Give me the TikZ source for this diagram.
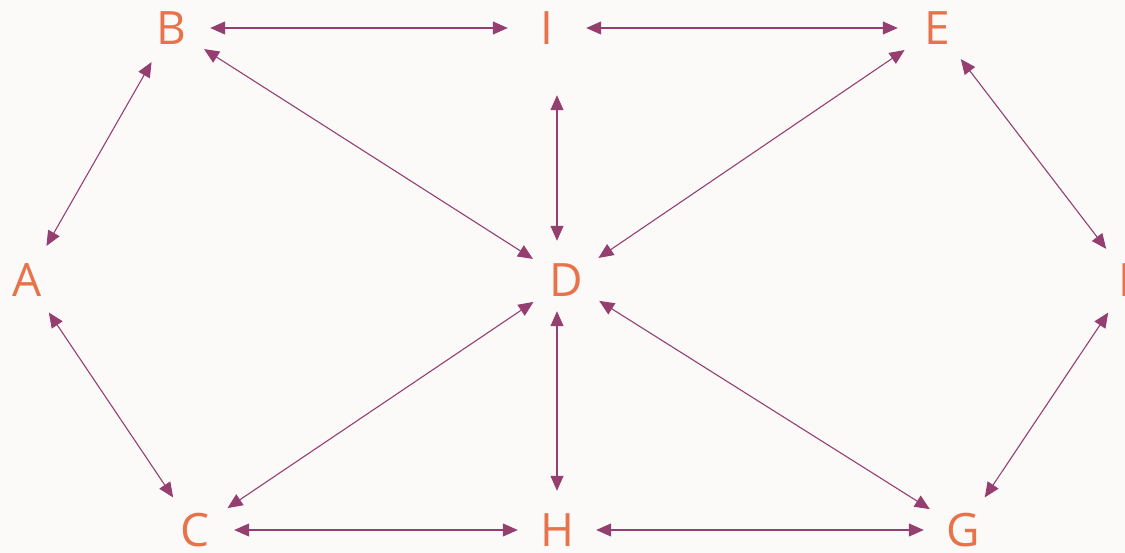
\documentclass[tikz,border=0pt]{standalone}
\usepackage{fontspec}
\setsansfont{Open Sans}
\usepackage{tikz}
\usetikzlibrary{arrows.meta, positioning, calc}
\definecolor{gpaper}{HTML}{FCFAF9}
\definecolor{gorange}{HTML}{E8734A}
\definecolor{gplum}{HTML}{953F70}
\tikzset{
  vtx/.style={circle, minimum size=78pt, inner sep=0pt, text=gorange,
              font=\sffamily\fontsize{46}{50}\selectfont},
  link/.style={{Triangle[length=15pt, width=13pt]}-{Triangle[length=15pt, width=13pt]},
               draw=gplum, line width=1.1pt}
}
\begin{document}
\begin{tikzpicture}[x=1pt, y=-1pt]
  \fill[gpaper] (0,0) rectangle (1125,553);
  \useasboundingbox (0,0) rectangle (1125,553);

  \node[vtx] (A) at (27,280) {A};
  \node[vtx] (B) at (171,28) {B};
  \node[vtx] (C) at (195,530) {C};
  \node[vtx] (D) at (566,280) {D};
  \node[vtx] (E) at (937,28) {E};
  \node[vtx] (F) at (1130,280) {F};
  \node[vtx] (G) at (963,530) {G};
  \node[vtx] (H) at (557,530) {H};
  \node[vtx] (I) at (547,28) {I};

  \draw[link] (A) -- (B);
  \draw[link] (A) -- (C);
  \draw[link] (B) -- (I);
  \draw[link] (I) -- (E);
  \draw[link] (B) -- (D);
  \draw[link] (E) -- (D);
  \draw[link] (C) -- (D);
  \draw[link] (G) -- (D);
  % vertical links run under D, lined up with H
  \draw[link, shorten <=28pt] (H |- I.south) -- (H |- D.north);
  \draw[link, shorten <=-8pt] (H |- D.south) -- (H);
  \draw[link] (C) -- (H);
  \draw[link] (H) -- (G);
  \draw[link] (E) -- (F);
  \draw[link] (F) -- (G);
\end{tikzpicture}
\end{document}
